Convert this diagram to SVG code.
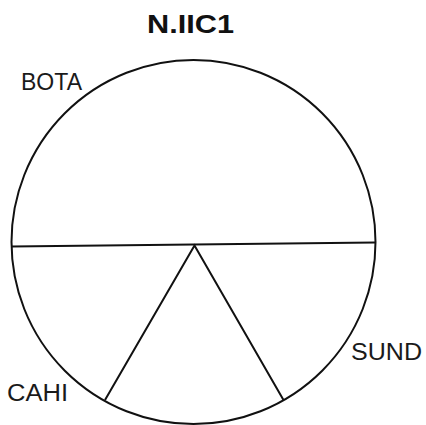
<svg xmlns="http://www.w3.org/2000/svg" width="426" height="425" viewBox="0 0 426 425">
<style>
.lbl{font-family:"Liberation Sans",Arial,sans-serif;font-size:23px;fill:#1a1a1a}
.ttl{font-family:"Liberation Sans",Arial,sans-serif;font-size:25px;font-weight:bold;fill:#111}
.ln{fill:none;stroke:#111;stroke-width:2}
</style>
<rect width="426" height="425" fill="#fff"/>
<text class="ttl" x="147" y="33" textLength="87" lengthAdjust="spacingAndGlyphs">N.IIC1</text>
<g id="circle"><circle class="ln" cx="193.5" cy="242" r="182"/></g>
<g id="connectors">
<line class="ln" x1="11.5" y1="246.5" x2="375.5" y2="242.5"/>
<polyline class="ln" points="105,400 194.5,245.5 283.5,400"/>
</g>
<g id="BOTA"><text class="lbl" x="21" y="90" textLength="61" lengthAdjust="spacingAndGlyphs">BOTA</text></g>
<g id="CAHI"><text class="lbl" x="7" y="401" textLength="61" lengthAdjust="spacingAndGlyphs">CAHI</text></g>
<g id="SUND"><text class="lbl" x="351" y="360" textLength="71" lengthAdjust="spacingAndGlyphs">SUND</text></g>
</svg>
